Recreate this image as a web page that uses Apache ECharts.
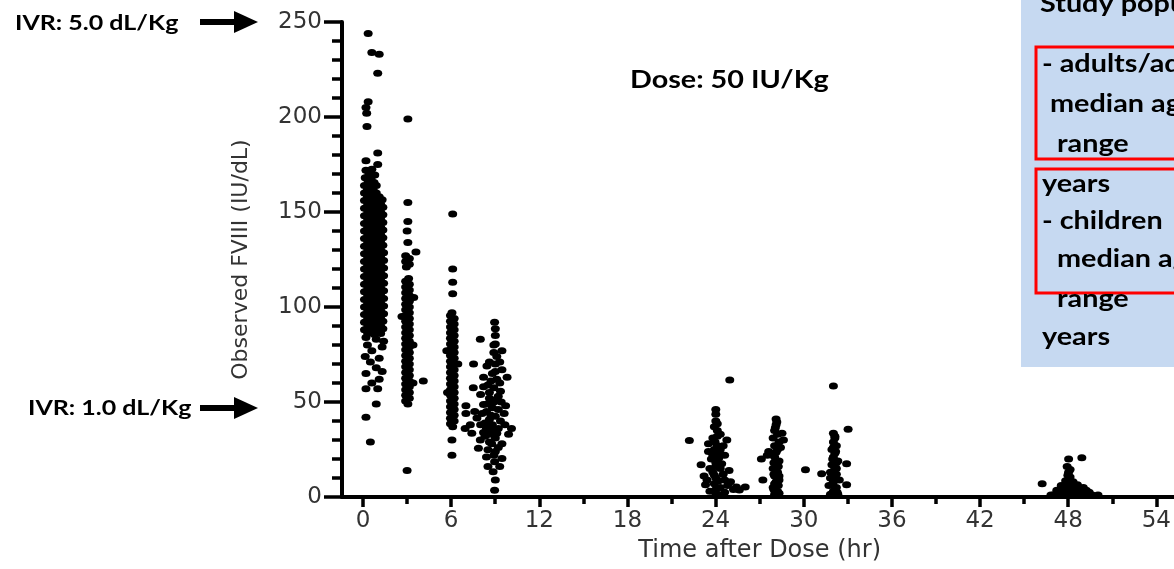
<!DOCTYPE html>
<html>
<head>
<meta charset="utf-8">
<script src="https://cdn.jsdelivr.net/npm/echarts@6/dist/echarts.min.js"></script>
<style>html,body{margin:0;padding:0;background:#fff}#c{width:1174px;height:569px}</style>
</head>
<body>
<div id="c"></div>
<script>
// ---- data: [time after dose (hr), observed FVIII (IU/dL)] ----
const xTicks = [0, 6, 12, 18, 24, 30, 36, 42, 48, 54];
const yTicks = [0, 50, 100, 150, 200, 250];

const obsHr0 = [
[0.35,244],[0.6,234],[1.1,233],[1.0,223],[0.35,208],[0.2,205],[0.25,202],[0.27,195],[1.0,181],[0.2,177],[1.0,175],
[0.2,172],[0.6,172.5],[0.4,170],[0.8,169.5],[0.15,168],[0.55,167.5],[0.35,166],[0.75,165.5],[0.1,164],[0.5,163.5],[0.9,164],
[0.3,162],[0.7,161.5],[0.1,160],[0.5,159.5],[0.9,160],[0.3,158],[0.7,157.5],[1.1,158],
[0.1,156],[0.55,155.5],[1.0,156],[1.3,156.5],[0.32,154],[0.78,153.5],[1.2,154],
[0.1,152],[0.55,151.5],[1.0,152],[1.35,152.5],[0.32,150],[0.78,149.5],[1.2,150],
[0.1,148],[0.55,147.5],[1.0,148],[1.35,148.5],[0.32,146],[0.78,145.5],[1.2,146],
[0.1,144],[0.55,143.5],[1.0,144],[1.35,144.5],[0.32,142],[0.78,141.5],[1.2,142],
[0.1,140],[0.55,139.5],[1.0,140],[1.35,140.5],[0.32,138],[0.78,137.5],[1.2,138],
[0.1,136],[0.55,135.5],[1.0,136],[1.35,136.5],[0.32,134],[0.78,133.5],[1.2,134],
[0.1,132],[0.55,131.5],[1.0,132],[1.35,132.5],[0.32,130],[0.78,129.5],[1.2,130],
[0.1,128],[0.55,127.5],[1.0,128],[1.4,128.5],[0.32,126],[0.78,125.5],[1.2,126],
[0.1,124],[0.55,123.5],[1.0,124],[1.4,124.5],[0.32,122],[0.78,121.5],[1.2,122],
[0.1,120],[0.55,119.5],[1.0,120],[1.4,120.5],[0.32,118],[0.78,117.5],[1.2,118],
[0.1,116],[0.55,115.5],[1.0,116],[1.4,116.5],[0.32,114],[0.78,113.5],[1.2,114],
[0.1,112],[0.55,111.5],[1.0,112],[1.4,112.5],[0.32,110],[0.78,109.5],[1.2,110],
[0.1,108],[0.55,107.5],[1.0,108],[1.4,108.5],[0.32,106],[0.78,105.5],[1.2,106],
[0.1,104],[0.55,103.5],[1.0,104],[1.4,104.5],[0.32,102],[0.78,101.5],[1.2,102],
[0.1,100],[0.55,99.5],[1.0,100],[1.4,100.5],[0.32,98],[0.78,97.5],[1.2,98],
[0.1,96],[0.55,95.5],[1.0,96],[1.4,96.5],[0.32,94],[0.78,93.5],[1.2,94],
[0.1,92],[0.55,91.5],[1.0,92],[1.35,92.5],[0.32,90],[0.78,89.5],[1.2,90],
[0.1,88],[0.55,87.5],[1.0,88],[1.35,88.5],[0.32,86],[0.78,85.5],[1.2,86],
[0.2,84],[0.9,83],[1.4,82],[0.3,80],[1.3,79],[0.6,77],[0.15,74],[1.1,73],[0.5,71],[0.9,68],[1.3,66],[0.2,65],[1.1,62],
[0.6,60],[0.2,57],[1.0,57],[0.9,49],[0.2,42],[0.5,29]
];
const obsHr3 = [
[3.05,199],[3.05,155],[3.05,145],[3.0,140],[3.05,134],[3.6,129],
[2.9,127],[3.15,125.5],[2.9,124],[3.15,122.5],[2.95,121],[3.1,115],[2.9,113.5],[3.15,112],[2.9,110.5],[3.15,109],
[2.9,107.5],[3.15,106],[2.9,104.5],[3.15,103],[2.9,101.5],[3.15,100],[2.9,98.5],[3.15,97],[2.9,95.5],[3.15,94],
[2.9,92.5],[3.15,91],[2.9,89.5],[3.15,88],[2.9,86.5],[3.15,85],[2.9,83.5],[3.15,82],[2.9,80.5],[3.15,79],[2.9,77.5],
[3.15,76],[2.9,74.5],[3.15,73],[2.9,71.5],[3.15,70],[2.9,68.5],[3.15,67],[2.9,65.5],[3.15,64],[2.9,62.5],[3.15,61],
[2.9,59.5],[3.15,58],[2.9,56.5],[3.15,55],[2.9,53.5],[3.15,52],[2.9,50.5],[3.05,49],
[3.45,105],[3.4,80],[2.65,95],[3.4,60],[4.1,61],[3.0,14]
];
const obsHr6 = [
[6.1,149],[6.1,120],[6.1,113],[6.1,107],
[6.05,97],[5.95,95.5],[6.2,94],[5.95,92.5],[6.2,91],[5.95,89.5],[6.2,88],[5.95,86.5],[6.2,85],[5.95,83.5],[6.2,82],
[5.95,80.5],[6.2,79],[5.95,77.5],[6.2,76],[5.95,74.5],[6.2,73],[5.95,71.5],[6.2,70],[5.95,68.5],[6.2,67],[5.95,65.5],
[6.2,64],[5.95,62.5],[6.2,61],[5.95,59.5],[6.2,58],[5.95,56.5],[6.2,55],[5.95,53.5],[6.2,52],[5.95,50.5],[6.2,49],
[5.95,47.5],[6.2,46],[5.95,44.5],[6.2,43],[5.95,41.5],[6.2,40],[5.95,38.5],[6.1,37],
[5.7,77],[6.45,70],[5.75,55],[6.05,30],[6.05,22]
];
const obsHr8 = [
[8.95,92],[9.0,88.5],[9.0,85],[7.98,83],[8.9,80],[9.45,77],[7.52,70],[8.43,69],[9.0,70],[9.45,67],[8.8,65],[8.2,63],[9.1,62],
[9.8,63],[8.5,59],[7.5,57.5],[8.9,57.5],[9.35,55.7],[8.0,54],[8.6,52],[9.0,51],[7.0,48],[8.2,48.7],[8.8,47],[9.7,48],[7.0,44],
[8.4,45],[9.0,42.5],[7.75,41.6],[8.6,40.8],[9.35,40],[6.95,36],[8.0,38],[8.4,36],[8.9,35.3],[10.1,36],[7.4,33.5],[8.3,32],
[9.0,31],[9.9,33],[7.98,30],[8.75,28],[9.45,28],[7.85,25.6],[8.5,24.9],[9.0,24],[8.4,21],[9.45,20.3],[8.95,18.5],[8.85,13.3],
[8.95,3.5],[8.7,43],[9.2,46],[8.1,44],[8.6,55],[9.3,60],[8.3,39],[9.2,36],[8.6,33],[9.6,44],[8.2,58],[9.1,74],
[8.9,76],[9.0,66],[8.7,61],[9.2,53],[8.9,50],[8.45,49],[9.4,50],[8.8,38],[9.1,33.5],[8.2,34],[8.6,29],[9.2,26],[8.9,22],
[9.3,16],[8.5,16],[9.0,9],[7.3,38],[7.6,45],[9.65,38],[9.0,80.5],[8.6,71],[9.3,71]
];
const obsHr24 = [
[24.95,61.6],[22.2,29.7],[24.0,46],[24.0,43.5],[24.0,40],[23.9,37],[24.1,35],[24.3,33],[23.8,31],[24.75,30],[23.5,28],
[24.1,27],[23.9,25],[24.6,22],[24.2,23],[23.7,20],[23.0,17],[24.0,18],[24.3,15],[23.8,13],[24.5,12],[24.0,10],[24.6,9],
[23.3,6.4],[23.9,7],[24.3,5],[25.4,5.3],[26.0,5.3],[25.6,3.7],[24.0,2],[24.8,6],[25.0,8],[23.6,3],[24.2,1],[23.5,24],
[24.5,27],[24.9,14],[23.2,11],[24.1,38.5],[24.1,32],[23.95,29],[24.2,20.5],[24.0,16],[23.9,11.5],[24.2,8.5],[24.0,4],[23.8,22],
[24.4,17.5],[23.6,15],[24.3,25],[23.4,9],[24.6,2.5],[25.2,4]
];
const obsHr28 = [
[28.1,41],[28.1,38],[28.5,33.5],[28.0,35],[27.9,31],[28.3,29],[28.6,30],[28.0,27],[28.2,25],[27.1,20],[27.5,22],[27.8,23],
[28.0,21],[28.3,19],[28.1,17],[27.9,15],[28.2,13],[28.0,11],[27.2,9],[28.3,9],[28.0,7],[27.9,5],[28.2,3],[28.0,1.5],[28.4,26],[27.6,24],
[28.15,39.5],[28.05,36.5],[28.2,33],[28.1,23.5],[27.95,18],[28.25,16],[28.1,14],[27.95,12],[28.3,11],[28.1,8],[28.25,6],[27.95,4],[28.3,2]
];
const obsHr32 = [
[32.0,58.4],[33.0,35.6],[32.0,33.5],[32.1,31],[32.0,29],[32.2,27],[31.9,25],[32.1,23],[32.0,21],[32.3,19],[32.9,17.5],
[31.9,17],[32.2,15],[30.1,14.3],[31.2,12.2],[31.8,13],[32.1,11],[32.4,9],[32.0,8],[32.9,6.4],[31.7,6],[32.2,5],[32.0,3],[32.3,1.5],[31.8,10],
[32.1,32],[32.0,26],[32.15,24],[31.95,20],[32.2,18],[32.05,14],[32.2,12],[31.95,7],[32.1,4],[32.25,2.5],[31.8,1.5]
];
const obsHr48 = [
[48.0,20],[48.9,20.7],[46.2,7],[47.9,16],[48.0,13],[48.1,10.5],[47.8,8.5],[48.3,8],[47.5,6],[48.0,6],[48.6,6.5],[49.0,5],
[47.2,3.5],[47.7,3],[48.3,3.5],[48.8,3],[49.4,2.5],[50.0,1],[47.0,1.2],[47.5,0.8],[48.0,1],[48.5,0.8],[49.0,1],[49.6,1],[46.8,1],
[48.1,14.5],[47.95,11.5],[48.2,7],[47.6,4.5],[48.0,4],[48.5,5],[49.2,3.5],[47.3,2],[48.2,2],[48.8,1.5],[47.9,2.5]
];

const chart = echarts.init(document.getElementById('c'));
const axisFont = 'DejaVu Sans';
const boldFont = 'Lato';

function txt(x, y, s, size, sx) {
  return { type: 'text', x: x, y: y, scaleX: sx, z: 200,
    style: { text: s, fontFamily: boldFont, fontWeight: 'bold', fontSize: size, fill: '#000', align: 'left', verticalAlign: 'middle' } };
}
function arrow(y) {
  return [
    { type: 'rect', z: 200, shape: { x: 200, y: y - 3, width: 36, height: 6 }, style: { fill: '#000' } },
    { type: 'polygon', z: 200, shape: { points: [[234, y - 11], [258, y], [234, y + 11]] }, style: { fill: '#000' } }
  ];
}

const allObs = [].concat(obsHr0, obsHr3, obsHr6, obsHr8, obsHr24, obsHr28, obsHr32, obsHr48);

chart.setOption({
  animation: false,
  backgroundColor: '#fff',
  grid: [
    { left: 342, right: 0, top: 22, bottom: 72 },
    { left: 363, right: 17, top: 22, bottom: 72 }
  ],
  xAxis: [
    { gridIndex: 0, type: 'value', min: -1.43, max: 55.17,
      axisLine: { onZero: false, lineStyle: { color: '#000', width: 4 } },
      axisTick: { show: false }, axisLabel: { show: false }, splitLine: { show: false } },
    { gridIndex: 1, type: 'value', min: xTicks[0], max: xTicks[xTicks.length - 1], interval: 6,
      axisLine: { show: false, onZero: false },
      axisTick: { show: true, length: 10, lineStyle: { color: '#000', width: 3.5 } },
      minorTick: { show: true, splitNumber: 2, length: 7, lineStyle: { color: '#000', width: 3.5 } },
      axisLabel: { margin: 13, fontFamily: axisFont, fontSize: 23, color: '#333' },
      splitLine: { show: false },
      name: 'Time after Dose (hr)', nameLocation: 'middle', nameGap: 42,
      nameTextStyle: { fontFamily: axisFont, fontSize: 24, color: '#333' } }
  ],
  yAxis: [
    { gridIndex: 0, type: 'value', min: yTicks[0], max: yTicks[yTicks.length - 1], interval: 50,
      axisLine: { show: true, onZero: false, lineStyle: { color: '#000', width: 4 } },
      axisTick: { show: true, length: 18, lineStyle: { color: '#000', width: 3.5 } },
      minorTick: { show: true, splitNumber: 5, length: 10, lineStyle: { color: '#000', width: 3.5 } },
      axisLabel: { margin: 20, fontFamily: axisFont, fontSize: 23, color: '#333' },
      splitLine: { show: false },
      name: 'Observed FVIII (IU/dL)', nameLocation: 'middle', nameGap: 90,
      nameTextStyle: { fontFamily: axisFont, fontSize: 22, color: '#333' } },
    { gridIndex: 1, type: 'value', min: 0, max: 250, show: false }
  ],
  series: [{
    type: 'scatter', xAxisIndex: 0, yAxisIndex: 0, data: allObs,
    symbol: 'circle', symbolSize: [9, 7], itemStyle: { color: '#000', opacity: 1 }, clip: false
  }],
  graphic: [
    { type: 'rect', z: 150, shape: { x: 1021, y: -5, width: 200, height: 372 }, style: { fill: '#c6d9f1' } },
    { type: 'rect', z: 160, shape: { x: 1036, y: 47, width: 200, height: 112 }, style: { fill: 'none', stroke: '#ff0000', lineWidth: 3 } },
    { type: 'rect', z: 160, shape: { x: 1036, y: 169, width: 200, height: 124 }, style: { fill: 'none', stroke: '#ff0000', lineWidth: 3 } },
    txt(1040, 4, 'Study population', 24, 1.2),
    txt(1042, 64, '- adults/adolescents', 24, 1.2),
    txt(1050, 104, 'median age', 24, 1.2),
    txt(1057, 144, 'range', 24, 1.2),
    txt(1042, 184, 'years', 24, 1.2),
    txt(1042, 221, '- children', 24, 1.2),
    txt(1057, 259, 'median age', 24, 1.2),
    txt(1057, 299, 'range', 24, 1.2),
    txt(1042, 337, 'years', 24, 1.2),
    txt(15, 24, 'IVR: 5.0 dL/Kg', 20, 1.25),
    txt(28, 409, 'IVR: 1.0 dL/Kg', 20, 1.25),
    txt(630, 80, 'Dose: 50 IU/Kg', 25, 1.15)
  ].concat(arrow(22), arrow(408))
});
</script>
</body>
</html>
